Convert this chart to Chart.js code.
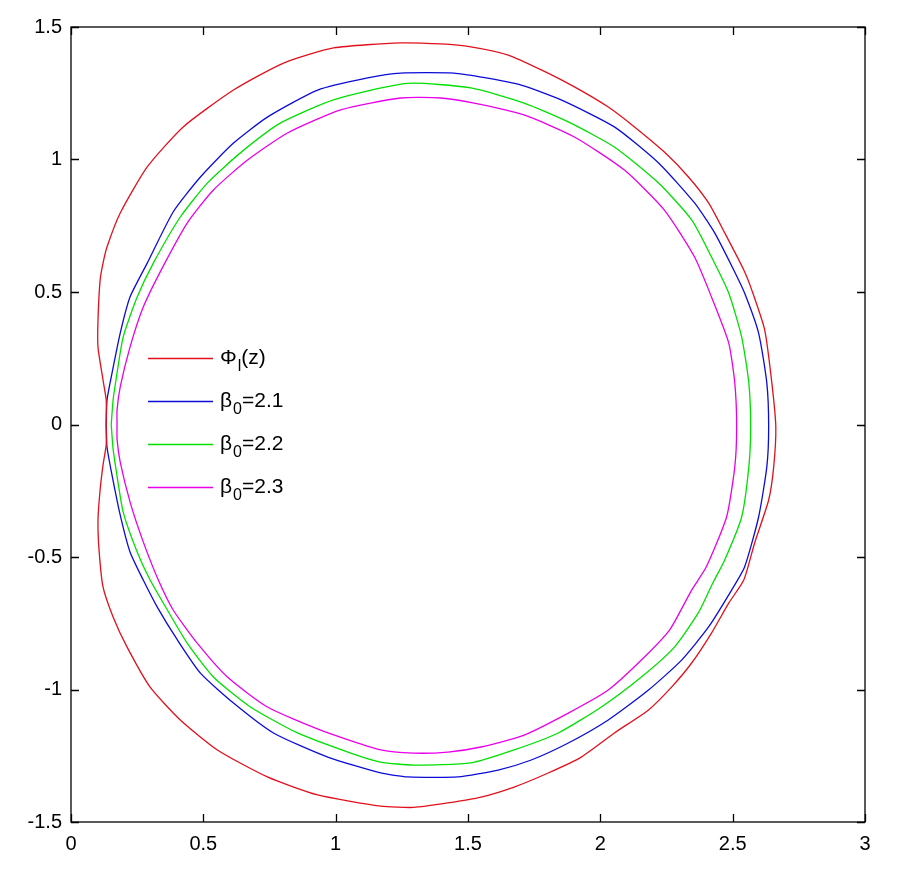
<!DOCTYPE html>
<html>
<head>
<meta charset="utf-8">
<script src="https://cdn.jsdelivr.net/npm/chart.js@4/dist/chart.umd.min.js"></script>
<style>
  html, body { margin: 0; padding: 0; background: #fff; }
  #wrap { width: 897px; height: 873px; }
</style>
</head>
<body>
<div id="wrap"><canvas id="chart" width="897" height="873"></canvas></div>
<script>
// values, one closed loop per curve
const phiX = [0.133,0.133,0.121,0.102,0.102,0.110,0.121,0.136,0.186,0.288,0.424,0.614,0.803,0.992,1.246,1.398,1.511,1.652,1.777,1.902,2.030,2.129,2.242,2.333,2.409,2.470,2.542,2.572,2.621,2.648,2.663,2.655,2.636,2.583,2.542,2.485,2.420,2.345,2.269,2.182,2.053,1.928,1.803,1.674,1.549,1.424,1.295,1.170,0.932,0.742,0.553,0.413,0.299,0.212,0.159,0.121,0.106,0.102,0.110,0.121,0.133,0.133];
const phiY = [0,0.092,0.168,0.292,0.394,0.545,0.609,0.670,0.798,0.972,1.123,1.262,1.364,1.421,1.440,1.436,1.425,1.394,1.338,1.274,1.198,1.123,1.028,0.934,0.836,0.723,0.583,0.508,0.357,0.157,-0.009,-0.160,-0.285,-0.447,-0.587,-0.674,-0.787,-0.900,-0.991,-1.077,-1.164,-1.255,-1.315,-1.368,-1.406,-1.428,-1.445,-1.440,-1.398,-1.330,-1.228,-1.115,-0.991,-0.840,-0.726,-0.613,-0.474,-0.360,-0.247,-0.153,-0.077,0];

const b21X = [0.133,0.136,0.155,0.186,0.223,0.288,0.386,0.489,0.614,0.742,0.932,1.121,1.246,1.447,1.549,1.701,1.852,2.053,2.220,2.356,2.432,2.504,2.545,2.598,2.629,2.636,2.629,2.598,2.545,2.496,2.409,2.307,2.182,2.030,1.879,1.739,1.614,1.462,1.273,1.170,0.970,0.765,0.614,0.489,0.402,0.326,0.273,0.223,0.186,0.155,0.136,0.133];
const b21Y = [0,0.092,0.194,0.345,0.481,0.609,0.802,0.934,1.062,1.160,1.262,1.308,1.326,1.326,1.311,1.281,1.225,1.123,0.987,0.836,0.723,0.583,0.496,0.345,0.157,-0.009,-0.160,-0.349,-0.538,-0.625,-0.764,-0.889,-1.002,-1.115,-1.202,-1.266,-1.304,-1.330,-1.330,-1.315,-1.255,-1.164,-1.051,-0.938,-0.813,-0.689,-0.587,-0.481,-0.342,-0.191,-0.085,0];

const b22X = [0.152,0.159,0.170,0.197,0.250,0.311,0.413,0.515,0.640,0.792,0.992,1.270,1.511,1.712,1.879,2.053,2.220,2.345,2.420,2.485,2.534,2.561,2.568,2.561,2.534,2.470,2.425,2.370,2.280,2.155,2.004,1.841,1.674,1.511,1.295,1.170,1.057,0.856,0.678,0.538,0.439,0.364,0.299,0.250,0.197,0.170,0.159,0.152];
const b22Y = [0,0.092,0.168,0.330,0.481,0.609,0.783,0.911,1.025,1.138,1.225,1.287,1.270,1.213,1.142,1.047,0.911,0.772,0.632,0.496,0.330,0.157,-0.009,-0.160,-0.349,-0.511,-0.598,-0.711,-0.840,-0.953,-1.066,-1.164,-1.228,-1.277,-1.285,-1.274,-1.240,-1.164,-1.066,-0.953,-0.825,-0.700,-0.587,-0.481,-0.330,-0.168,-0.092,0];

const b23X = [0.174,0.174,0.186,0.223,0.273,0.345,0.439,0.538,0.667,0.818,1.019,1.246,1.398,1.523,1.712,1.902,2.091,2.242,2.356,2.420,2.485,2.508,2.515,2.508,2.477,2.400,2.345,2.262,2.155,2.030,1.879,1.712,1.549,1.424,1.295,1.170,0.943,0.742,0.591,0.477,0.386,0.330,0.273,0.223,0.186,0.174,0.174];
const b23Y = [0,0.055,0.142,0.292,0.443,0.591,0.760,0.885,0.998,1.100,1.187,1.232,1.232,1.213,1.168,1.085,0.960,0.809,0.632,0.481,0.308,0.157,-0.009,-0.160,-0.349,-0.538,-0.625,-0.775,-0.889,-1.002,-1.089,-1.172,-1.217,-1.236,-1.240,-1.228,-1.153,-1.066,-0.953,-0.825,-0.700,-0.587,-0.443,-0.292,-0.142,-0.055,0];

const xTicks = [0, 0.5, 1, 1.5, 2, 2.5, 3];
const xTickLabels = ['0', '0.5', '1', '1.5', '2', '2.5', '3'];
const yTicks = [-1.5, -1, -0.5, 0, 0.5, 1, 1.5];
const yTickLabels = ['-1.5', '-1', '-0.5', '0', '0.5', '1', '1.5'];

// legend entries: main text, subscript, rest
const legendItems = [
  { main: 'Φ', sub: 'l', rest: '(z)', color: '#e2101c' },
  { main: 'β', sub: '0', rest: '=2.1', color: '#0c0cd8' },
  { main: 'β', sub: '0', rest: '=2.2', color: '#00e000' },
  { main: 'β', sub: '0', rest: '=2.3', color: '#ea00ea' }
];

const FONT = '"Liberation Sans", Arial, sans-serif';

function pts(xs, ys) { return xs.map((x, i) => ({ x: x, y: ys[i] })); }

const series = [
  { label: 'Φl(z)', data: pts(phiX, phiY), color: legendItems[0].color },
  { label: 'β0=2.1', data: pts(b21X, b21Y), color: legendItems[1].color },
  { label: 'β0=2.2', data: pts(b22X, b22Y), color: legendItems[2].color },
  { label: 'β0=2.3', data: pts(b23X, b23Y), color: legendItems[3].color }
];

// box frame, inward ticks and the legend (matlab style)
const frame = {
  id: 'frame',
  afterDraw(chart) {
    const { ctx, chartArea: a, scales } = chart;
    ctx.save();
    ctx.strokeStyle = '#000';
    ctx.lineWidth = 1.3;
    ctx.strokeRect(a.left, a.top, a.right - a.left, a.bottom - a.top);
    const tl = 8;
    ctx.beginPath();
    xTicks.forEach(v => {
      const px = Math.round(scales.x.getPixelForValue(v)) + 0.5;
      ctx.moveTo(px, a.bottom); ctx.lineTo(px, a.bottom - tl);
      ctx.moveTo(px, a.top);    ctx.lineTo(px, a.top + tl);
    });
    yTicks.forEach(v => {
      const py = Math.round(scales.y.getPixelForValue(v)) + 0.5;
      ctx.moveTo(a.left, py);  ctx.lineTo(a.left + tl, py);
      ctx.moveTo(a.right, py); ctx.lineTo(a.right - tl, py);
    });
    ctx.stroke();

    // legend
    const lx = a.left + 77, ly = a.top + 331, rowH = 43;
    legendItems.forEach((it, i) => {
      const y = ly + i * rowH;
      ctx.strokeStyle = it.color;
      ctx.lineWidth = 1.3;
      ctx.beginPath();
      ctx.moveTo(lx, y + 0.5); ctx.lineTo(lx + 65, y + 0.5);
      ctx.stroke();
      ctx.fillStyle = '#000';
      ctx.textBaseline = 'middle';
      ctx.font = '21px ' + FONT;
      let tx = lx + 72;
      ctx.fillText(it.main, tx, y);
      tx += ctx.measureText(it.main).width + 1;
      ctx.font = '16px ' + FONT;
      ctx.fillText(it.sub, tx, y + 9);
      tx += ctx.measureText(it.sub).width;
      ctx.font = '21px ' + FONT;
      ctx.fillText(it.rest, tx, y);
    });
    ctx.restore();
  }
};

new Chart(document.getElementById('chart'), {
  type: 'scatter',
  data: {
    datasets: series.map(s => ({
      label: s.label,
      data: s.data,
      showLine: true,
      borderColor: s.color,
      borderWidth: 1.3,
      pointRadius: 0,
      tension: 0.2,
      fill: false
    }))
  },
  options: {
    responsive: false,
    animation: false,
    events: [],
    layout: { padding: { left: 0, top: 27, right: 32, bottom: 0 } },
    plugins: { legend: { display: false }, tooltip: { enabled: false } },
    scales: {
      x: {
        type: 'linear', min: 0, max: 3,
        afterBuildTicks: s => { s.ticks = xTicks.map(v => ({ value: v })); },
        afterFit: s => { s.height = 51; },
        grid: { display: false, drawTicks: false },
        border: { display: false },
        ticks: {
          padding: 10,
          color: '#000',
          font: { family: FONT, size: 20 },
          callback: v => xTickLabels[xTicks.indexOf(v)]
        }
      },
      y: {
        type: 'linear', min: -1.5, max: 1.5,
        afterBuildTicks: s => { s.ticks = yTicks.map(v => ({ value: v })); },
        afterFit: s => { s.width = 71; },
        grid: { display: false, drawTicks: false },
        border: { display: false },
        ticks: {
          padding: 9,
          color: '#000',
          font: { family: FONT, size: 20 },
          callback: v => yTickLabels[yTicks.indexOf(v)]
        }
      }
    }
  },
  plugins: [frame]
});
</script>
</body>
</html>
